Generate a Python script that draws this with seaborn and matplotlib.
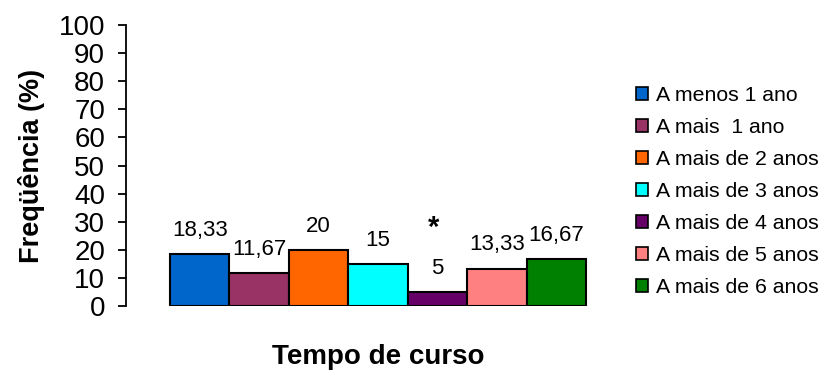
import matplotlib
matplotlib.use("Agg")
import matplotlib.pyplot as plt
from matplotlib.patches import Patch
import seaborn as sns

# Data
categories = ["A menos 1 ano", "A mais  1 ano", "A mais de 2 anos", "A mais de 3 anos",
              "A mais de 4 anos", "A mais de 5 anos", "A mais de 6 anos"]
values = [18.33, 11.67, 20, 15, 5, 13.33, 16.67]
value_labels = ["18,33", "11,67", "20", "15", "5", "13,33", "16,67"]
colors = ["#0066CC", "#993366", "#FF6600", "#00FFFF", "#660066", "#FF8080", "#008000"]

sns.set_style("white")
plt.rcParams["font.family"] = ["Liberation Sans", "DejaVu Sans"]
plt.rcParams.update({"text.color": "black", "axes.labelcolor": "black",
                     "ytick.color": "black", "xtick.color": "black"})

fig = plt.figure(figsize=(8.26, 3.70), dpi=100)
ax = fig.add_axes([126 / 826, 1 - 306 / 370, (630 - 126) / 826, (306 - 25) / 370])

sns.barplot(x=categories, y=values, hue=categories, palette=colors, width=1,
            saturation=1, edgecolor="black", linewidth=1.5, legend=False, ax=ax)

# value labels
for i, (v, lab) in enumerate(zip(values, value_labels)):
    ax.annotate(lab, (i, v), xytext=(0, 17), textcoords="offset points",
                ha="center", va="center", fontsize=16)
ax.annotate("*", (4, values[4]), xytext=(-3, 46), textcoords="offset points",
            ha="center", va="center", fontsize=21, fontweight="bold")

ax.set_xlim(-1.24, 7.24)
ax.set_ylim(0, 100)
ax.set_yticks(range(0, 101, 10))
ax.set_xticks([])
ax.tick_params(axis="y", direction="out", length=6, width=1.3, pad=9,
               labelsize=20, left=True)
for s in ["top", "right", "bottom"]:
    ax.spines[s].set_visible(False)
ax.spines["left"].set_linewidth(1.3)
ax.spines["left"].set_color("black")

ax.set_ylabel("Freqüência (%)", fontsize=19.5, fontweight="bold", labelpad=10)
ax.set_xlabel("Tempo de curso", fontsize=20, fontweight="bold", labelpad=27)

handles = [Patch(facecolor=c, edgecolor="black", linewidth=1.2) for c in colors]
ax.legend(handles, categories, loc="upper left",
          bbox_to_anchor=(636 / 826, 1 - 86 / 370), bbox_transform=fig.transFigure,
          frameon=False, fontsize=15.3, handlelength=0.55, handleheight=0.55,
          handletextpad=0.4, labelspacing=0.61, borderpad=0, borderaxespad=0)

fig.savefig("out.png", dpi=100)
